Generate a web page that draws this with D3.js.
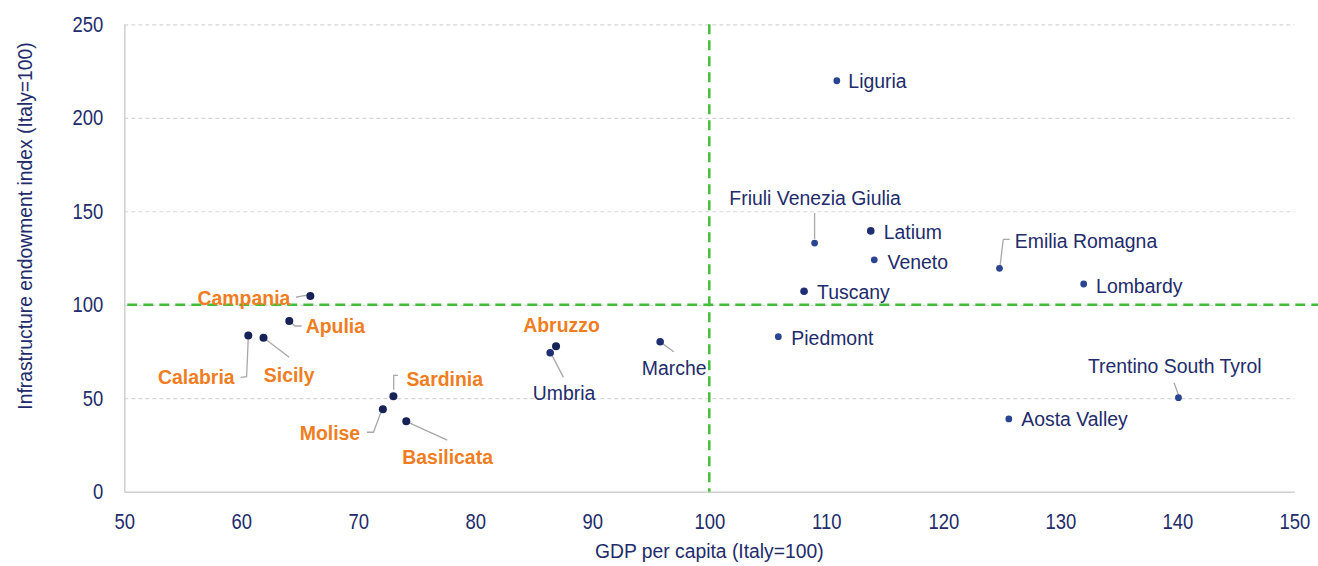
<!DOCTYPE html>
<html>
<head>
<meta charset="utf-8">
<script src="https://cdn.jsdelivr.net/npm/d3@7"></script>
<style>
  html, body { margin: 0; padding: 0; background: #ffffff; }
  svg { display: block; font-family: "Liberation Sans", Arial, Helvetica, sans-serif; }
</style>
</head>
<body>
<svg id="chart" width="1318" height="566"></svg>
<script>
// Italian regions: GDP per capita vs infrastructure endowment (both Italy = 100)
const regions = [
  "Liguria", "Friuli Venezia Giulia", "Latium", "Veneto", "Emilia Romagna",
  "Lombardy", "Tuscany", "Piedmont", "Trentino South Tyrol", "Aosta Valley",
  "Marche", "Umbria", "Abruzzo", "Campania", "Apulia", "Calabria", "Sicily",
  "Sardinia", "Molise", "Basilicata"
];
const gdpPerCapita = [
  110.9, 109.0, 113.8, 114.1, 124.8,
  132.0, 108.1, 105.9, 140.1, 125.6,
  95.8, 86.4, 86.9, 65.9, 64.1, 60.6, 61.9,
  73.0, 72.1, 74.1
];
const infrastructureIndex = [
  219.8, 133.0, 139.5, 124.0, 119.5,
  111.1, 107.2, 82.9, 50.3, 38.9,
  80.2, 74.3, 77.8, 104.7, 91.3, 83.6, 82.4,
  51.1, 44.1, 37.7
];
const macroArea = [
  "North", "North", "Centre", "North", "North",
  "North", "Centre", "North", "North", "North",
  "Centre", "Centre", "South", "South", "South", "South", "South",
  "South", "South", "South"
];
const xTicks = [50, 60, 70, 80, 90, 100, 110, 120, 130, 140, 150];
const yTicks = [0, 50, 100, 150, 200, 250];
const italyAverage = 100;
const xTitle = "GDP per capita (Italy=100)";
const yTitle = "Infrastructure endowment index (Italy=100)";

// Label placement relative to each dot (pixels): baseline anchor point + leader path
const labelLayout = {
  "Liguria":               { dx: 11.5, dy: 7.6,  anchor: "start" },
  "Friuli Venezia Giulia": { dx: 0.5,  dy: -38.3, anchor: "middle", leader: [[0, -4], [0, -30]] },
  "Latium":                { dx: 13,   dy: 8,    anchor: "start" },
  "Veneto":                { dx: 13.3, dy: 8.7,  anchor: "start" },
  "Emilia Romagna":        { dx: 15.3, dy: -20,  anchor: "start", leader: [[0.6, -2], [3.6, -27.6], [4, -29], [10.3, -29]] },
  "Lombardy":              { dx: 12.4, dy: 8.7,  anchor: "start" },
  "Tuscany":               { dx: 13,   dy: 8,    anchor: "start" },
  "Piedmont":              { dx: 13,   dy: 8.3,  anchor: "start" },
  "Trentino South Tyrol":  { dx: -3.7, dy: -24.4, anchor: "middle", leader: [[0, -2.7], [-4.4, -15]] },
  "Aosta Valley":          { dx: 12.4, dy: 6.7,  anchor: "start" },
  "Marche":                { dx: 14,   dy: 33.3, anchor: "middle", leader: [[1.9, 1.6], [13.6, 10]] },
  "Umbria":                { dx: 13.8, dy: 47.3, anchor: "middle", leader: [[1.7, 2.3], [13.3, 24.6]] },
  "Abruzzo":               { dx: 5.5,  dy: -14.6, anchor: "middle" },
  "Campania":              { dx: -20,  dy: 9,    anchor: "end", leader: [[-3.3, -0.7], [-9, 0.2], [-14.3, 1.3]] },
  "Apulia":                { dx: 16.4, dy: 12.3, anchor: "start", leader: [[1.7, 1.3], [5.7, 5], [12.4, 5]] },
  "Calabria":              { dx: -13.7, dy: 49,  anchor: "end", leader: [[0, 1.3], [-1.7, 41.3], [-7.7, 42]] },
  "Sicily":                { dx: 0.3,  dy: 44,   anchor: "start", leader: [[3, 2.3], [25.6, 19.6]] },
  "Sardinia":              { dx: 13,   dy: -10,  anchor: "start", leader: [[0.3, -6.3], [0.3, -20.7], [4.6, -20.7]] },
  "Molise":                { dx: -22.7, dy: 30.7, anchor: "end", leader: [[-2, 3.3], [-9.4, 23], [-16, 23]] },
  "Basilicata":            { dx: -4,   dy: 42.3, anchor: "start", leader: [[3, 1.7], [41, 19]] }
};

const navy = "#222b6b";
const orange = "#f07d22";
const green = "#43bd3a";

const svg = d3.select("#chart");
const plot = { left: 124.3, right: 1294.3, top: 24.3, bottom: 491.7 };

const x = d3.scaleLinear().domain([50, 150]).range([plot.left, plot.right]);
const y = d3.scaleLinear().domain([0, 250]).range([plot.bottom, plot.top]);

const points = regions.map((name, i) => ({
  name,
  gdp: gdpPerCapita[i],
  infra: infrastructureIndex[i],
  area: macroArea[i]
}));

const dotColor = d3.scaleOrdinal().domain(["North", "Centre", "South"]).range(["#2a4690", "#1f2f72", "#172257"]);
const dotRadius = d3.scaleOrdinal().domain(["North", "Centre", "South"]).range([3.4, 3.8, 4.0]);

// Horizontal gridlines
const grid = svg.append("g")
  .attr("transform", `translate(${plot.left},0)`)
  .call(d3.axisLeft(y).tickValues(yTicks.filter(v => v > 0)).tickSize(-(plot.right - plot.left)).tickFormat(""));
grid.select(".domain").remove();
grid.selectAll(".tick line")
  .attr("stroke", "#d6d6d6")
  .attr("stroke-width", 1.2)
  .attr("stroke-dasharray", "4,3");

// Y axis
const yAxis = svg.append("g")
  .attr("transform", `translate(${plot.left},0)`)
  .call(d3.axisLeft(y).tickValues(yTicks).tickSize(0).tickPadding(21));
yAxis.select(".domain").attr("stroke", "#cfcfcf").attr("stroke-width", 1.5);
yAxis.selectAll(".tick text")
  .attr("fill", navy)
  .attr("font-size", 22.5)
  .attr("font-family", "Liberation Sans, Arial, sans-serif")
  .attr("dy", null)
  .attr("y", 7)
  .attr("x", -21 / 0.82)
  .attr("transform", "scale(0.82,1)");

// X axis
const xAxis = svg.append("g")
  .attr("transform", `translate(0,${plot.bottom})`)
  .call(d3.axisBottom(x).tickValues(xTicks).tickSize(0));
xAxis.select(".domain").attr("stroke", "#cfcfcf").attr("stroke-width", 1.5);
xAxis.selectAll(".tick text")
  .attr("fill", navy)
  .attr("font-size", 22.5)
  .attr("font-family", "Liberation Sans, Arial, sans-serif")
  .attr("dy", null)
  .attr("y", 37.6)
  .attr("transform", "scale(0.82,1)");

// Italy average reference lines
svg.append("line")
  .attr("x1", x(50) + 3).attr("x2", 1318)
  .attr("y1", y(italyAverage)).attr("y2", y(italyAverage))
  .attr("stroke", green).attr("stroke-width", 2.5)
  .attr("stroke-dasharray", "10,6");
svg.append("line")
  .attr("x1", x(italyAverage)).attr("x2", x(italyAverage))
  .attr("y1", y(250)).attr("y2", y(0))
  .attr("stroke", green).attr("stroke-width", 2.5)
  .attr("stroke-dasharray", "10,6");

// Leader lines
const line = d3.line();
svg.append("g").selectAll("path")
  .data(points.filter(d => labelLayout[d.name].leader))
  .join("path")
  .attr("d", d => line(labelLayout[d.name].leader.map(([dx, dy]) => [x(d.gdp) + dx, y(d.infra) + dy])))
  .attr("fill", "none")
  .attr("stroke", "#a8a8a8")
  .attr("stroke-width", 1.3);

// Dots
svg.append("g").selectAll("circle")
  .data(points)
  .join("circle")
  .attr("cx", d => x(d.gdp))
  .attr("cy", d => y(d.infra))
  .attr("r", d => dotRadius(d.area))
  .attr("fill", d => dotColor(d.area));

// Region labels
svg.append("g").selectAll("text")
  .data(points)
  .join("text")
  .attr("transform", d => {
    const l = labelLayout[d.name];
    return `translate(${x(d.gdp) + l.dx},${y(d.infra) + l.dy}) scale(0.925,1)`;
  })
  .attr("text-anchor", d => labelLayout[d.name].anchor)
  .attr("font-size", 21)
  .attr("font-weight", d => d.area === "South" ? "bold" : "normal")
  .attr("fill", d => d.area === "South" ? orange : navy)
  .text(d => d.name);

// Axis titles
svg.append("text")
  .attr("transform", `translate(${(plot.left + plot.right) / 2},558) scale(0.92,1)`)
  .attr("text-anchor", "middle")
  .attr("font-size", 21)
  .attr("fill", navy)
  .text(xTitle);

svg.append("text")
  .attr("transform", `translate(32,226) rotate(-90) scale(0.92,1)`)
  .attr("text-anchor", "middle")
  .attr("font-size", 21)
  .attr("fill", navy)
  .text(yTitle);
</script>
</body>
</html>
